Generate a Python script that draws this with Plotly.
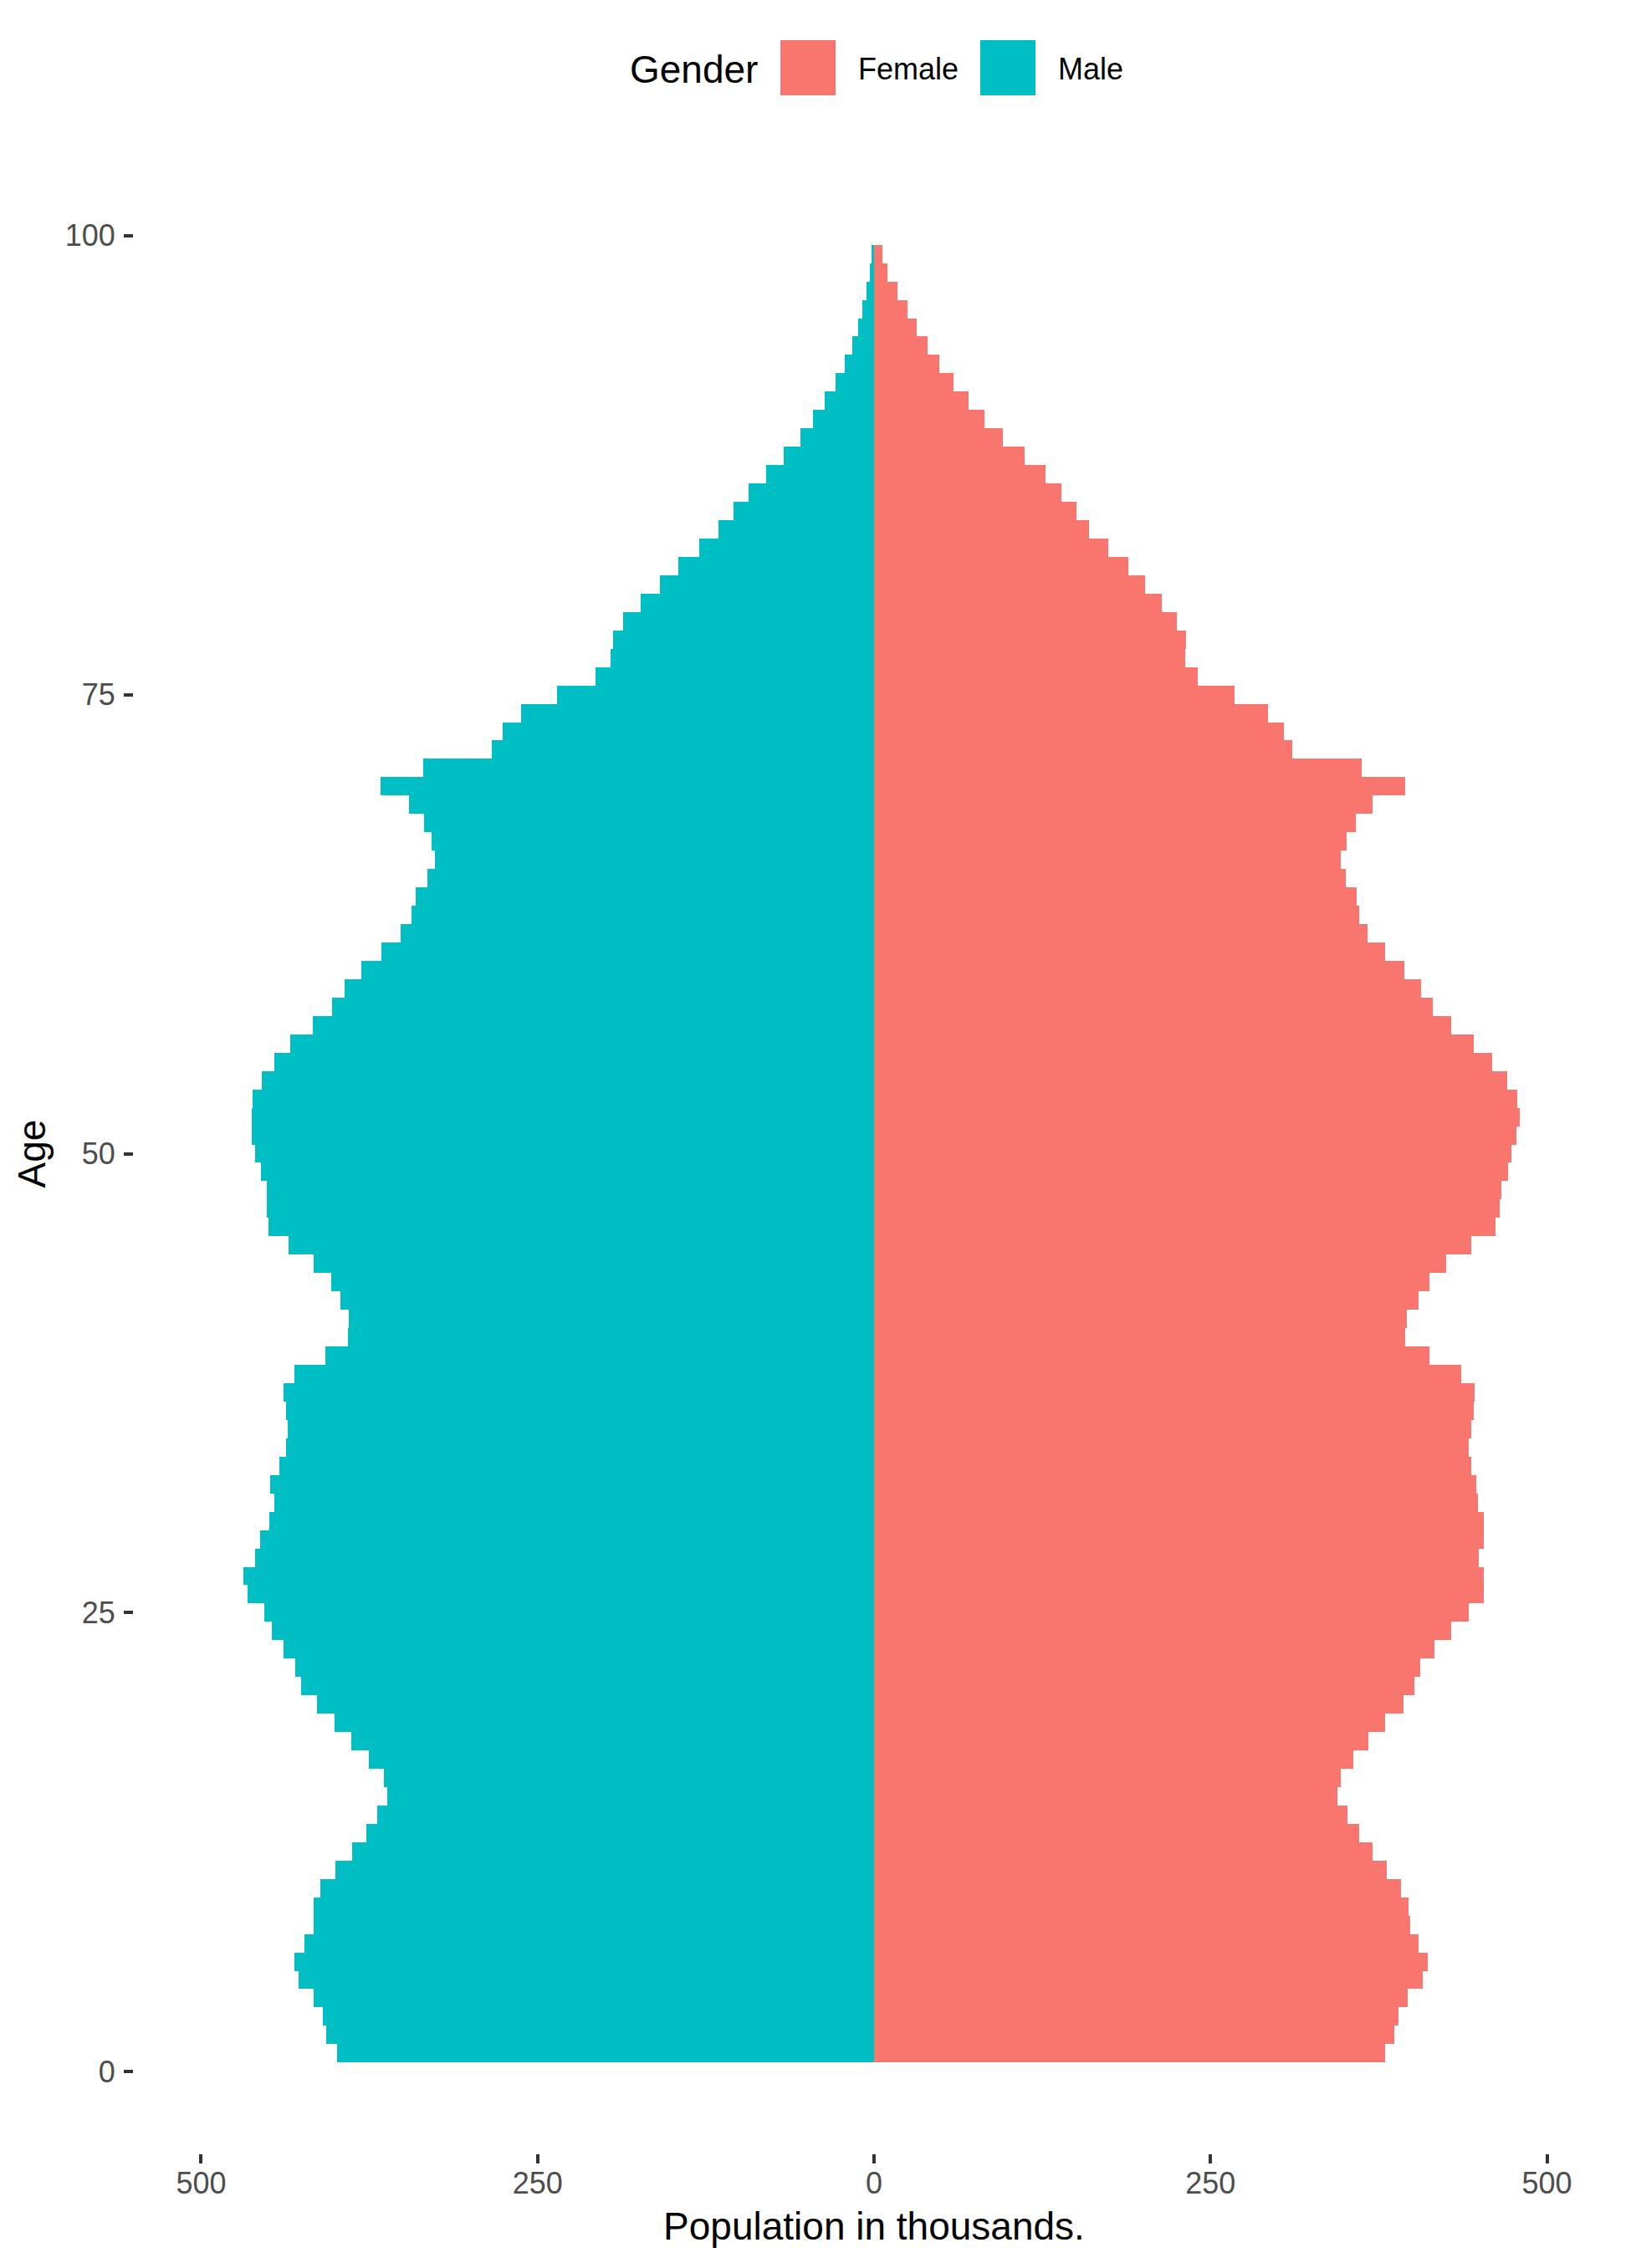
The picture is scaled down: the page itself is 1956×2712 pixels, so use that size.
import plotly.graph_objects as go

# ---- data (population in thousands, by single year of age) ----
ages = list(range(1, 100))

male = [
    399.0, 407.2, 409.6, 416.4, 427.7, 430.8, 423.3, 416.4, 416.4, 411.6,
    400.4, 387.7, 377.2, 369.3, 361.8, 364.2, 375.5, 388.4, 401.1, 414.1,
    426.0, 430.1, 438.9, 447.2, 453.3, 465.6, 468.7, 460.1, 456.4, 449.5,
    445.8, 448.9, 442.1, 436.6, 435.9, 436.9, 438.9, 430.8, 407.9, 391.2,
    390.5, 396.6, 403.5, 416.4, 435.2, 450.2, 450.9, 450.9, 455.7, 460.1,
    462.5, 462.5, 461.9, 455.0, 445.8, 433.5, 417.1, 402.8, 393.6, 381.0,
    366.3, 351.9, 343.7, 340.6, 331.8, 326.3, 328.7, 334.5, 345.4, 366.6,
    334.9, 284.0, 275.8, 262.2, 235.5, 206.8, 195.6, 194.2, 186.5, 173.3,
    159.2, 145.5, 129.9, 115.6, 104.4, 93.2, 80.1, 67.1, 54.6, 45.3,
    36.6, 28.5, 21.7, 16.1, 11.7, 8.6, 5.5, 3.0, 1.7,
]

female = [
    379.8, 386.6, 389.7, 396.5, 407.8, 411.5, 404.7, 398.6, 397.2, 391.7,
    381.1, 370.5, 360.7, 351.8, 344.3, 347.0, 356.2, 367.5, 379.8, 393.4,
    401.6, 406.0, 416.6, 428.9, 441.6, 453.2, 452.8, 449.1, 453.2, 452.8,
    448.4, 447.7, 443.9, 441.6, 443.9, 445.3, 446.4, 436.5, 412.9, 394.8,
    396.1, 404.7, 412.9, 425.2, 443.9, 462.0, 465.1, 465.8, 471.3, 473.6,
    477.0, 479.5, 478.1, 470.3, 459.0, 445.3, 428.9, 415.2, 406.7, 394.1,
    379.8, 366.8, 360.7, 358.6, 350.4, 347.0, 351.1, 357.9, 370.5, 394.8,
    362.4, 310.8, 304.7, 292.7, 267.8, 240.5, 230.9, 231.6, 224.8, 213.6,
    201.1, 188.7, 173.7, 160.0, 150.1, 139.5, 127.1, 112.1, 96.0, 82.3,
    70.5, 59.3, 48.7, 40.0, 31.9, 25.1, 17.6, 10.1, 6.3,
]

x_tickvals = [-500, -250, 0, 250, 500]
x_ticktext = ["500", "250", "0", "250", "500"]
y_tickvals = [0, 25, 50, 75, 100]

genders = ["Female", "Male"]
colors = {"Female": "#F8766D", "Male": "#00BFC4"}

FONT = "Liberation Sans, Arial, sans-serif"

fig = go.Figure()
fig.add_trace(go.Bar(
    y=ages, x=female, orientation="h", name="Female",
    marker=dict(color=colors["Female"], line=dict(width=0)), width=1.0,
    showlegend=False,
))
fig.add_trace(go.Bar(
    y=ages, x=[-v for v in male], orientation="h", name="Male",
    marker=dict(color=colors["Male"], line=dict(width=0)), width=1.0,
    showlegend=False,
))

# page body has an 8px default margin: lay out the figure 8px smaller/shifted
OFF = 8
W, H = 1956 - OFF, 2712 - OFF
L, R, T, B = 160 - OFF, 26, 184 - OFF, 137
pw, ph = W - L - R, H - T - B


def px2paper_x(px):
    return (px - OFF - L) / pw


def px2paper_y(py):
    return (H - B - (py - OFF)) / ph


# manual legend (large ggplot-style keys)
shapes = []
annotations = []
annotations.append(dict(
    text="Gender", x=px2paper_x(751), y=px2paper_y(83), xref="paper", yref="paper",
    xanchor="left", yanchor="middle", showarrow=False,
    font=dict(family=FONT, size=46, color="black"),
))
key_left = {"Female": 933, "Male": 1172}
label_left = {"Female": 1024, "Male": 1263}
for g in genders:
    shapes.append(dict(
        type="rect", xref="paper", yref="paper",
        x0=px2paper_x(key_left[g]), x1=px2paper_x(key_left[g] + 66),
        y0=px2paper_y(114), y1=px2paper_y(48),
        fillcolor=colors[g], line=dict(width=0),
    ))
    annotations.append(dict(
        text=g, x=px2paper_x(label_left[g]), y=px2paper_y(83), xref="paper", yref="paper",
        xanchor="left", yanchor="middle", showarrow=False,
        font=dict(family=FONT, size=36, color="black"),
    ))

fig.update_layout(
    width=W, height=H,
    margin=dict(l=L, r=R, t=T, b=B, autoexpand=False),
    paper_bgcolor="white", plot_bgcolor="white",
    barmode="overlay", bargap=0,
    font=dict(family=FONT, size=36, color="#4D4D4D"),
    shapes=shapes, annotations=annotations,
    showlegend=False,
)

fig.update_xaxes(
    range=[-550, 550], tickvals=x_tickvals, ticktext=x_ticktext,
    showgrid=False, zeroline=False, showline=False,
    ticks="outside", ticklen=11, tickwidth=4, tickcolor="#333333",
    tickfont=dict(family=FONT, size=36, color="#4D4D4D"),
    ticklabelstandoff=-7,
    title=dict(text="Population in thousands.", standoff=15,
               font=dict(family=FONT, size=46, color="black")),
    automargin=False,
)
fig.update_yaxes(
    range=[-4.45, 104.45], tickvals=y_tickvals,
    showgrid=False, zeroline=False, showline=False,
    ticks="outside", ticklen=11, tickwidth=4, tickcolor="#333333",
    tickfont=dict(family=FONT, size=36, color="#4D4D4D"),
    ticklabelstandoff=3,
    title=dict(text="Age", standoff=8,
               font=dict(family=FONT, size=46, color="black")),
    automargin=False,
)

fig.write_html("out.html")
